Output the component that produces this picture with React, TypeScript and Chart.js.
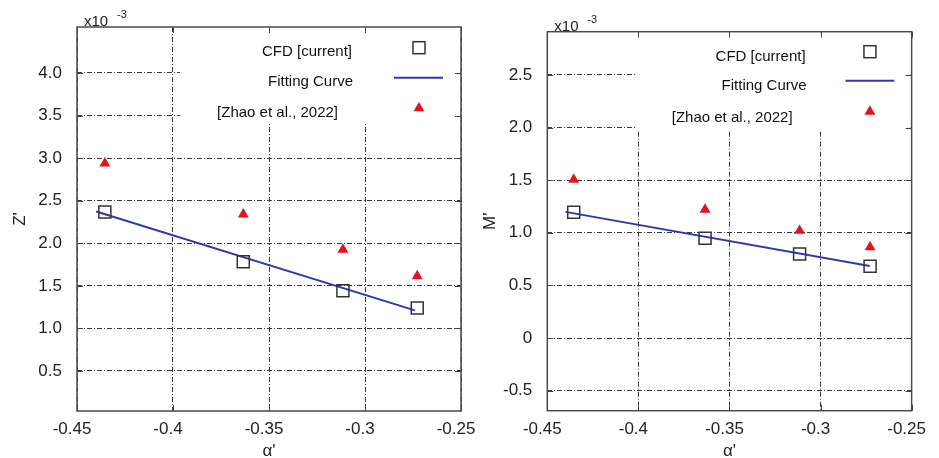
import React, { useEffect, useRef } from 'react';
import { Chart, registerables } from 'chart.js';
Chart.register(...registerables);

// ---------- data ----------
const alphaVals = [-0.4355, -0.3634, -0.3115, -0.2728];
const xTickVals = [-0.45, -0.4, -0.35, -0.3, -0.25];
const xTickLabels = ['-0.45', '-0.4', '-0.35', '-0.3', '-0.25'];

const zCFD = [2.366, 1.783, 1.443, 1.239];
const zZhao = [2.94, 2.34, 1.925, 1.615];
const zFitX = [-0.44, -0.274];
const zFitY = [2.373, 1.211];
const zTickVals = [0.5, 1.0, 1.5, 2.0, 2.5, 3.0, 3.5, 4.0];
const zTickLabels = ['0.5', '1.0', '1.5', '2.0', '2.5', '3.0', '3.5', '4.0'];

const mCFD = [1.195, 0.948, 0.798, 0.681];
const mZhao = [1.505, 1.22, 1.02, 0.864];
const mFitX = [-0.44, -0.273];
const mFitY = [1.198, 0.684];
const mTickVals = [-0.5, 0, 0.5, 1.0, 1.5, 2.0, 2.5];
const mTickLabels = ['-0.5', '0', '0.5', '1.0', '1.5', '2.0', '2.5'];

const legendLabels = ['CFD [current]', 'Fitting Curve', '[Zhao et al., 2022]'];
const xTitle = "\u03b1'";

// ---------- style ----------
const FONT = "'Liberation Sans', Arial, sans-serif";
const RED = '#e3131c';
const BLUE = '#2f3aa8';
const SQ = '#333333';
const GRID = '#3a3a3a';
const TRI_R = 6.3;
const SQ_R = 8.5;

function drawTri(ctx: CanvasRenderingContext2D, x: number, y: number, r: number) {
  ctx.beginPath();
  for (let k = 0; k < 3; k++) {
    const a = (k * 2 * Math.PI) / 3;
    const px = x + Math.sin(a) * r;
    const py = y - Math.cos(a) * r;
    if (k === 0) ctx.moveTo(px, py);
    else ctx.lineTo(px, py);
  }
  ctx.closePath();
  ctx.fillStyle = RED;
  ctx.fill();
}

function makeFrame(lg: { textR: number[]; textY: number[]; mark: number[]; lineX: number[]; boxW: number; boxH: number }) {
  return {
    id: 'frame',
    beforeDatasetsDraw(chart: any) {
      const { ctx, chartArea: a } = chart;
      ctx.save();
      ctx.fillStyle = '#ffffff';
      ctx.fillRect(a.right - lg.boxW, a.top + 1, lg.boxW - 1, lg.boxH);
      ctx.restore();
    },
    afterDatasetsDraw(chart: any) {
      const { ctx, chartArea: a } = chart;
      const xs = chart.scales.x;
      const ys = chart.scales.y;
      ctx.save();
      // legend
      ctx.font = `15px ${FONT}`;
      ctx.fillStyle = '#111';
      ctx.textAlign = 'right';
      ctx.textBaseline = 'middle';
      legendLabels.forEach((t, i) => {
        ctx.fillText(t, a.right - lg.textR[i], a.top + lg.textY[i]);
      });
      const mx = a.right - lg.mark[0];
      // square
      const s = 12;
      ctx.strokeStyle = SQ;
      ctx.lineWidth = 1.5;
      ctx.strokeRect(mx - s / 2, a.top + lg.mark[1] - s / 2, s, s);
      // line
      ctx.strokeStyle = BLUE;
      ctx.lineWidth = 2;
      ctx.beginPath();
      ctx.moveTo(a.right - lg.lineX[0], a.top + lg.mark[2]);
      ctx.lineTo(a.right - lg.lineX[1], a.top + lg.mark[2]);
      ctx.stroke();
      // triangle
      drawTri(ctx, mx, a.top + lg.mark[3] + 1.5, TRI_R);

      // inward ticks
      ctx.strokeStyle = '#444';
      ctx.lineWidth = 1;
      const tl = 6;
      xs.ticks.forEach((t: any) => {
        const px = Math.round(xs.getPixelForValue(t.value)) + 0.5;
        ctx.beginPath();
        ctx.moveTo(px, a.top);
        ctx.lineTo(px, a.top + tl);
        ctx.moveTo(px, a.bottom);
        ctx.lineTo(px, a.bottom - tl);
        ctx.stroke();
      });
      ys.ticks.forEach((t: any) => {
        const py = Math.round(ys.getPixelForValue(t.value)) + 0.5;
        ctx.beginPath();
        ctx.moveTo(a.left, py);
        ctx.lineTo(a.left + tl, py);
        ctx.moveTo(a.right, py);
        ctx.lineTo(a.right - tl, py);
        ctx.stroke();
      });
      // border
      ctx.strokeStyle = '#4a4a4a';
      ctx.lineWidth = 1.5;
      ctx.strokeRect(a.left, a.top, a.right - a.left, a.bottom - a.top);
      ctx.restore();
    },
    afterDraw(chart: any) {
      const { ctx, chartArea: a } = chart;
      ctx.save();
      ctx.fillStyle = '#222';
      ctx.textAlign = 'left';
      ctx.textBaseline = 'alphabetic';
      ctx.font = `15px ${FONT}`;
      ctx.fillText('x10', a.left + 7, a.top - 1);
      ctx.font = `11px ${FONT}`;
      ctx.fillText('-3', a.left + 40, a.top - 9);
      ctx.restore();
    },
  };
}

function makeConfig(p: {
  cfd: number[];
  zhao: number[];
  fitX: number[];
  fitY: number[];
  yTicks: number[];
  yLabels: string[];
  yMin: number;
  yMax: number;
  yTitle: string;
  pad: { top: number; right: number };
  yW: number;
  xH: number;
  lg: any;
}): any {
  return {
    type: 'scatter',
    data: {
      datasets: [
        {
          label: legendLabels[1],
          data: p.fitX.map((x, i) => ({ x, y: p.fitY[i] })),
          showLine: true,
          borderColor: BLUE,
          borderWidth: 1.9,
          pointRadius: 0,
          order: 3,
        },
        {
          label: legendLabels[0],
          data: alphaVals.map((x, i) => ({ x, y: p.cfd[i] })),
          pointStyle: 'rect',
          pointRadius: SQ_R,
          borderColor: SQ,
          borderWidth: 1.5,
          backgroundColor: 'rgba(0,0,0,0)',
          order: 1,
        },
        {
          label: legendLabels[2],
          data: alphaVals.map((x, i) => ({ x, y: p.zhao[i] })),
          pointStyle: 'triangle',
          pointRadius: TRI_R,
          borderWidth: 0,
          borderColor: RED,
          backgroundColor: RED,
          order: 2,
        },
      ],
    },
    options: {
      animation: false,
      responsive: false,
      maintainAspectRatio: false,
      layout: { padding: { left: 0, top: p.pad.top, right: p.pad.right, bottom: 0 } },
      plugins: { legend: { display: false }, tooltip: { enabled: false } },
      scales: {
        x: {
          type: 'linear',
          min: -0.45,
          max: -0.25,
          afterBuildTicks: (s: any) => {
            s.ticks = xTickVals.map((v) => ({ value: v }));
          },
          afterFit: (s: any) => {
            s.height = p.xH;
          },
          ticks: {
            callback: (_v: any, i: number) => xTickLabels[i],
            font: { family: FONT, size: 17 },
            color: '#222',
            padding: 8,
            labelOffset: -5,
            maxRotation: 0,
            autoSkip: false,
          },
          grid: { color: GRID, lineWidth: 1, drawTicks: false },
          border: { display: false, dash: [5, 2, 1, 2] },
          title: {
            display: true,
            text: xTitle,
            font: { family: FONT, size: 17 },
            color: '#222',
            padding: { top: 0, bottom: -4 },
          },
        },
        y: {
          type: 'linear',
          min: p.yMin,
          max: p.yMax,
          afterBuildTicks: (s: any) => {
            s.ticks = p.yTicks.map((v) => ({ value: v }));
          },
          afterFit: (s: any) => {
            s.width = p.yW;
          },
          ticks: {
            callback: (_v: any, i: number) => p.yLabels[i],
            font: { family: FONT, size: 17 },
            color: '#222',
            padding: 15,
            autoSkip: false,
          },
          grid: { color: GRID, lineWidth: 1, drawTicks: false },
          border: { display: false, dash: [5, 2, 1, 2] },
          title: { display: true, text: p.yTitle, font: { family: FONT, size: 17 }, color: '#222', padding: 10 },
        },
      },
    },
    plugins: [makeFrame(p.lg)],
  };
}

function ChartBox(props: { cfg: any; left: number; width: number }) {
  const ref = useRef<HTMLCanvasElement>(null);
  useEffect(() => {
    if (!ref.current) return;
    const c = new Chart(ref.current, props.cfg);
    return () => c.destroy();
  }, []);
  return (
    <canvas
      ref={ref}
      width={props.width}
      height={458}
      style={{ position: 'absolute', left: props.left, top: 0, width: props.width, height: 458 }}
    />
  );
}

export default function App() {
  const leftCfg = makeConfig({
    cfd: zCFD,
    zhao: zZhao,
    fitX: zFitX,
    fitY: zFitY,
    yTicks: zTickVals,
    yLabels: zTickLabels,
    yMin: 0.03,
    yMax: 4.54,
    yTitle: "Z'",
    pad: { top: 27, right: 29 },
    yW: 77,
    xH: 47,
    lg: { textR: [109, 108, 123], textY: [25, 55, 86], mark: [42, 20.7, 50.7, 79.7], lineX: [67, 18], boxW: 281, boxH: 94 },
  });
  const rightCfg = makeConfig({
    cfd: mCFD,
    zhao: mZhao,
    fitX: mFitX,
    fitY: mFitY,
    yTicks: mTickVals,
    yLabels: mTickLabels,
    yMin: -0.69,
    yMax: 2.91,
    yTitle: "M'",
    pad: { top: 31.7, right: 13 },
    yW: 77.3,
    xH: 47.3,
    lg: { textR: [106, 105, 119], textY: [25, 54.3, 86], mark: [41.7, 20, 49, 78.3], lineX: [66, 17.3], boxW: 276, boxH: 97 },
  });
  return (
    <div style={{ position: 'absolute', left: 0, top: 0, width: 939, height: 458, background: '#fff', overflow: 'hidden' }}>
      <ChartBox cfg={leftCfg} left={0} width={490} />
      <ChartBox cfg={rightCfg} left={470} width={469} />
    </div>
  );
}
